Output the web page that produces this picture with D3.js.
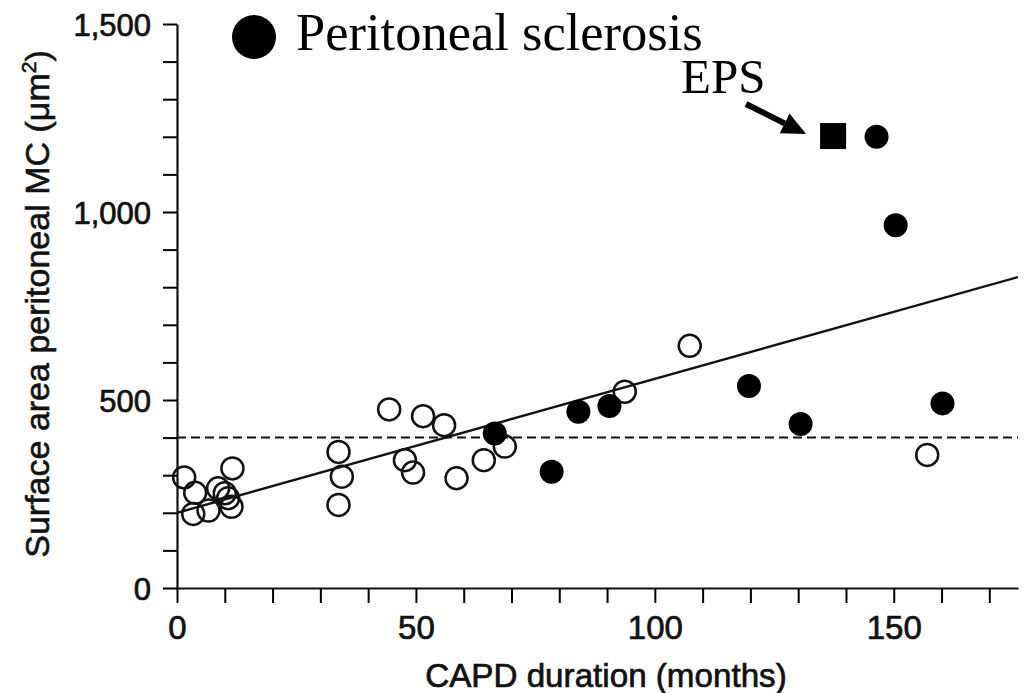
<!DOCTYPE html>
<html><head><meta charset="utf-8">
<script src="https://cdn.jsdelivr.net/npm/d3@7"></script>
<style>body{margin:0;background:#fff}svg{display:block}</style>
</head><body>
<svg id="c" width="1027" height="693"></svg>
<script>
// Data
const openX = [1.5, 11.6, 3.8, 8.6, 10.0, 10.7, 3.4, 6.6, 11.4, 33.8, 34.5, 33.8, 44.4, 51.5, 55.9, 47.7, 49.4, 58.5, 64.2, 68.6, 93.7, 107.3, 157.0];
const openY = [294, 318, 253, 265, 252, 239, 197, 206, 216, 362, 296, 221, 475, 457, 433, 340, 307, 292, 340, 376, 522, 644, 354];
const fillX = [66.5, 78.4, 84.0, 90.5, 119.7, 130.5, 146.4, 150.4, 160.2];
const fillY = [411, 309, 469, 484, 537, 436, 1200, 965, 491];
const epsX = [137.3];
const epsY = [1202];
const refLine = 400;
const regX = [0, 176];
const regY = [200, 827];
const yTickLabels = [0, 500, 1000, 1500];
const xTickLabels = [0, 50, 100, 150];

const svg = d3.select("#c");
const x = d3.scaleLinear().domain([0, 176]).range([177, 1018]);
const y = d3.scaleLinear().domain([0, 1500]).range([588, 24]);

// axes
const yAxis = d3.axisLeft(y).tickValues(d3.range(0, 1501, 100)).tickSize(14).tickSizeOuter(0)
  .tickFormat(d => yTickLabels.includes(d) ? d3.format(",")(d) : "");
const gy = svg.append("g").attr("transform", `translate(${x(0)},0)`).call(yAxis);
gy.select(".domain").attr("stroke-width", 2.2);
gy.selectAll(".tick line").attr("stroke-width", 2);
gy.selectAll(".tick text").attr("font-family", "Liberation Sans, Arial, sans-serif")
  .attr("font-size", 31).attr("fill", "#111").attr("stroke", "#111").attr("stroke-width", 0.7)
  .attr("x", -26).attr("dy", "0.36em");

const xAxis = d3.axisBottom(x).tickValues(d3.range(0, 171, 10)).tickSize(15).tickSizeOuter(0)
  .tickFormat(d => xTickLabels.includes(d) ? d : "");
const gx = svg.append("g").attr("transform", `translate(0,${y(0)})`).call(xAxis);
gx.select(".domain").attr("stroke-width", 2.2);
gx.selectAll(".tick line").attr("stroke-width", 2);
gx.selectAll(".tick text").attr("font-family", "Liberation Sans, Arial, sans-serif")
  .attr("font-size", 33).attr("fill", "#111").attr("stroke", "#111").attr("stroke-width", 0.7)
  .attr("y", 28);
svg.selectAll(".domain").attr("stroke", "#111");

// axis titles
svg.append("text").attr("transform", `translate(49,304) rotate(-90)`)
  .attr("text-anchor", "middle").attr("font-family", "Liberation Sans, Arial, sans-serif")
  .attr("font-size", 34).attr("fill", "#111").attr("stroke", "#111").attr("stroke-width", 0.6)
  .html('Surface area peritoneal MC (μm<tspan dy="-13" font-size="21">2</tspan><tspan dy="13">)</tspan>');
svg.append("text").attr("x", 606).attr("y", 687).attr("text-anchor", "middle")
  .attr("font-family", "Liberation Sans, Arial, sans-serif").attr("font-size", 33.2)
  .attr("fill", "#111").attr("stroke", "#111").attr("stroke-width", 0.7)
  .text("CAPD duration (months)");

// reference dashed line
svg.append("line").attr("x1", x(0)).attr("x2", x(176)).attr("y1", y(refLine)).attr("y2", y(refLine))
  .attr("stroke", "#111").attr("stroke-width", 2).attr("stroke-dasharray", "9,5");

// regression line
svg.append("line").attr("x1", x(regX[0])).attr("x2", x(regX[1])).attr("y1", y(regY[0])).attr("y2", y(regY[1]))
  .attr("stroke", "#111").attr("stroke-width", 2.4);

// open circles
svg.append("g").selectAll("circle").data(openX.map((d, i) => [d, openY[i]])).join("circle")
  .attr("cx", d => x(d[0])).attr("cy", d => y(d[1])).attr("r", 11)
  .attr("fill", "none").attr("stroke", "#111").attr("stroke-width", 2.5);

// filled circles
svg.append("g").selectAll("circle").data(fillX.map((d, i) => [d, fillY[i]])).join("circle")
  .attr("cx", d => x(d[0])).attr("cy", d => y(d[1])).attr("r", 12).attr("fill", "#000");

// EPS square
svg.append("g").selectAll("rect").data(epsX.map((d, i) => [d, epsY[i]])).join("rect")
  .attr("x", d => x(d[0]) - 13).attr("y", d => y(d[1]) - 13).attr("width", 26).attr("height", 26).attr("fill", "#000");

// EPS annotation
const tip = [x(epsX[0]) - 27, y(epsY[0]) - 2];
const ang = Math.atan2(30, 60);
const tail = [tip[0] - 60, tip[1] - 30];
const headLen = 24, headW = 11;
const bx = tip[0] - headLen * Math.cos(ang), by = tip[1] - headLen * Math.sin(ang);
svg.append("line").attr("x1", tail[0]).attr("y1", tail[1]).attr("x2", bx).attr("y2", by)
  .attr("stroke", "#000").attr("stroke-width", 6);
svg.append("polygon").attr("points", [
  tip, [bx + headW * Math.sin(ang), by - headW * Math.cos(ang)], [bx - headW * Math.sin(ang), by + headW * Math.cos(ang)]
].map(p => p.join(",")).join(" ")).attr("fill", "#000");
svg.append("text").attr("x", 681).attr("y", 93).attr("font-family", "Liberation Serif, Times New Roman, serif")
  .attr("font-size", 49).attr("fill", "#000").text("EPS");

// legend
svg.append("circle").attr("cx", 254).attr("cy", 37).attr("r", 22).attr("fill", "#000");
svg.append("text").attr("x", 296).attr("y", 50).attr("font-family", "Liberation Serif, Times New Roman, serif")
  .attr("font-size", 52.5).attr("fill", "#000").text("Peritoneal sclerosis");
</script>
</body></html>
